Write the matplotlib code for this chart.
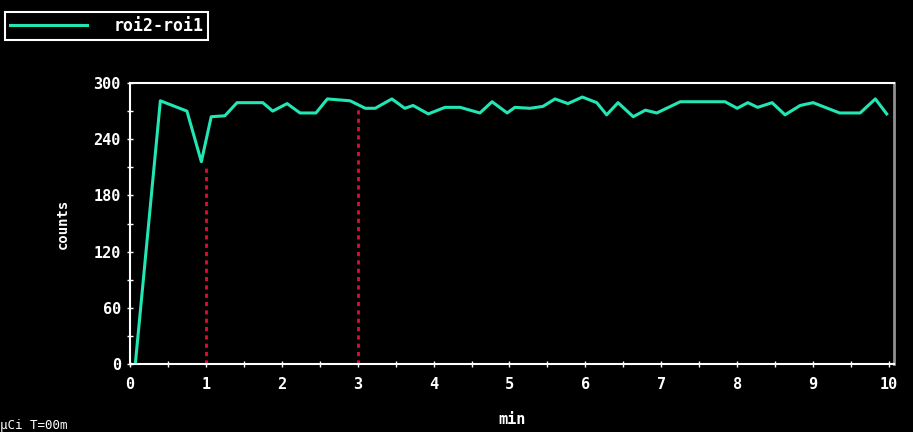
import matplotlib
matplotlib.use("Agg")
import matplotlib.pyplot as plt
from matplotlib.ticker import MultipleLocator

# roi2-roi1 time activity curve
t_min = [0.07, 0.40, 0.75, 0.94, 1.07, 1.25, 1.41, 1.75, 1.88, 2.07, 2.24, 2.45,
         2.60, 2.90, 3.10, 3.23, 3.45, 3.62, 3.73, 3.93, 4.15, 4.35, 4.61, 4.77,
         4.97, 5.07, 5.27, 5.44, 5.60, 5.77, 5.96, 6.15, 6.28, 6.43, 6.63, 6.79,
         6.94, 7.25, 7.84, 8.00, 8.14, 8.27, 8.46, 8.63, 8.83, 9.00, 9.35, 9.62,
         9.82, 9.97]
counts = [0, 281, 270, 216, 264, 265, 279, 279, 270, 278, 268, 268,
          283, 281, 273, 273, 283, 273, 276, 267, 274, 274, 268, 280,
          268, 274, 273, 275, 283, 278, 285, 279, 266, 279, 264, 271,
          268, 280, 280, 273, 279, 274, 279, 266, 276, 279, 268, 268,
          283, 267]

# red dotted markers
mark_t = [1, 3]
mark_top = [212, 273]

series_name = "roi2-roi1"
teal = "#22e6b4"
font = "DejaVu Sans Mono"

fig = plt.figure(figsize=(9.13, 4.32), dpi=100, facecolor="black")
ax = fig.add_axes([130/913, 1-364/432, 764/913, 281/432], facecolor="black")

line, = ax.plot(t_min, counts, color=teal, lw=2.2, label=series_name)
for t, top in zip(mark_t, mark_top):
  ax.plot([t, t], [0, top], color="#e0102a", lw=2, ls=(0, (1.5, 1.5)))

ax.set_xlim(0, 10.066)
ax.set_ylim(0, 300)
ax.xaxis.set_major_locator(MultipleLocator(1))
ax.xaxis.set_minor_locator(MultipleLocator(0.5))
ax.yaxis.set_major_locator(MultipleLocator(60))
ax.yaxis.set_minor_locator(MultipleLocator(30))
ax.tick_params(which="both", colors="white", direction="inout", length=5, width=1)
ax.tick_params(which="both", top=False, right=False)
ax.tick_params(axis="x", pad=7)
ax.tick_params(axis="y", pad=4)
for lab in ax.get_xticklabels() + ax.get_yticklabels():
  lab.set_family(font)
  lab.set_fontweight("bold")
  lab.set_fontsize(11)
for side in ["left", "bottom", "top"]:
  ax.spines[side].set_color("white")
  ax.spines[side].set_linewidth(1.5)
ax.spines["right"].set_color("#909090")
ax.spines["right"].set_linewidth(2)

ax.set_xlabel("min", color="white", family=font, fontweight="bold", fontsize=11, labelpad=14)
ax.set_ylabel("counts", color="white", family=font, fontweight="bold", fontsize=10, labelpad=17)

leg = fig.legend(handles=[line], loc="upper left", bbox_to_anchor=(5/913, 1-12/432),
                 facecolor="black", edgecolor="white", fancybox=False, framealpha=1,
                 handlelength=4.6, handletextpad=1.6, borderpad=0.3, borderaxespad=0,
                 prop={"family": font, "weight": "bold", "size": 12})
leg.get_frame().set_linewidth(1.5)
for txt in leg.get_texts():
  txt.set_color("white")

fig.text(0, 1-419/432, "\u00b5Ci T=00m", color="white", family=font, fontsize=9, va="top")

fig.savefig("out.png", dpi=100, facecolor="black")
